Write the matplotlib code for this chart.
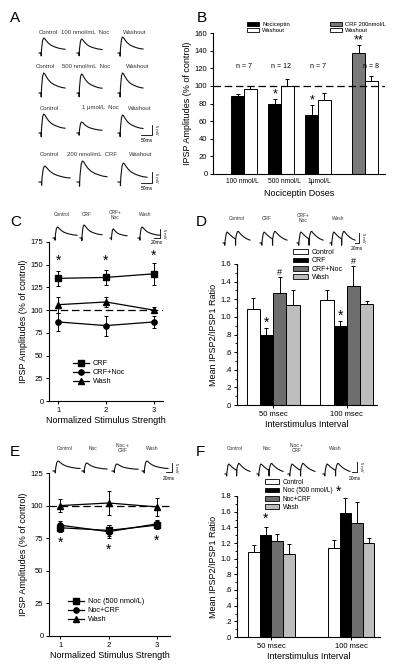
import numpy as np
import matplotlib
matplotlib.use("Agg")
import matplotlib.pyplot as plt
from matplotlib.patches import Patch
from matplotlib.lines import Line2D
from matplotlib.ticker import MultipleLocator, AutoMinorLocator

plt.rcParams['font.family'] = ['Liberation Sans', 'DejaVu Sans']
plt.rcParams['font.size'] = 6
plt.rcParams['axes.linewidth'] = 0.8

# ---- data ----
# panel B
b_doses = ["100 nmol/L", "500 nmol/L", "1\u03bcmol/L"]
b_noc = [89, 80, 67]
b_noc_err = [2, 5, 11]
b_wash = [97, 100, 84]
b_wash_err = [3, 8, 8]
b_crf = 137
b_crf_err = 9
b_crf_wash = 105
b_crf_wash_err = 6
b_n = ["n = 7", "n = 12", "n = 7", "n = 8"]

# panel C
c_x = [1, 2, 3]
c_crf = [135, 136, 140]
c_crf_err = [8, 8, 12]
c_crfnoc = [87, 83, 87]
c_crfnoc_err = [10, 11, 7]
c_wash = [106, 109, 100]
c_wash_err = [9, 6, 3]

# panel D
d_intervals = ["50 msec", "100 msec"]
d_labels = ["Control", "CRF", "CRF+Noc", "Wash"]
d_vals = [[1.09, 1.19], [0.79, 0.90], [1.27, 1.35], [1.14, 1.15]]
d_errs = [[0.12, 0.12], [0.08, 0.05], [0.18, 0.23], [0.16, 0.03]]

# panel E
e_x = [1, 2, 3]
e_noc = [83, 81, 85]
e_noc_err = [3, 4, 3]
e_noccrf = [85, 80, 86]
e_noccrf_err = [3, 5, 3]
e_wash = [100, 102, 99]
e_wash_err = [5, 9, 7]

# panel F
f_labels = ["Control", "Noc (500 nmol/L)", "Noc+CRF", "Wash"]
f_vals = [[1.08, 1.14], [1.30, 1.58], [1.23, 1.46], [1.06, 1.20]]
f_errs = [[0.09, 0.10], [0.11, 0.19], [0.08, 0.26], [0.13, 0.07]]

# example trace shapes (normalised)
ipsp_t = [0, 0.08, 0.085, 0.09, 0.10, 0.14, 0.18, 0.22, 0.28, 0.36, 0.46, 0.58, 0.72, 0.86, 1.0]
ipsp_v = [0, 0, -0.2, 0, 0.3, 0.85, 1.0, 0.96, 0.82, 0.66, 0.52, 0.42, 0.34, 0.28, 0.25]
pp_t = [0, 0.06, 0.065, 0.07, 0.09, 0.12, 0.15, 0.20, 0.28, 0.38, 0.46, 0.465, 0.47,
        0.50, 0.54, 0.57, 0.62, 0.70, 0.80, 0.90, 1.0]
pp_v = [0, 0, -0.2, 0, 0.4, 0.85, 1.0, 0.9, 0.7, 0.5, 0.38, -0.2, 0.38,
        0.8, 1.05, 1.05, 0.9, 0.7, 0.5, 0.36, 0.26]
# trace amplitudes (px)
a_amps = [[15, 14, 16], [20, 19, 20], [19, 11, 18], [16, 21, 19]]
c_amps = [11, 13, 9, 11]
d_amps = [11, 11, 11, 11]
e_amps = [10, 8, 7, 10]
f_amps = [10, 10, 10, 10]

W, H = 400, 669
fig = plt.figure(figsize=(W / 100, H / 100), dpi=100)


def box(l, t, r, b):
    return [l / W, 1 - b / H, (r - l) / W, (b - t) / H]


def style(ax):
    for s in ['top', 'right']:
        ax.spines[s].set_visible(False)
    ax.tick_params(labelsize=5.5, length=2.5, width=0.7, pad=1.5)


ekw = dict(ecolor='black', elinewidth=0.7, capsize=1.5, capthick=0.7)
patch_kw = dict(handleheight=0.7, borderpad=0, borderaxespad=0, frameon=False)

# ---- B ----
axB = fig.add_axes(box(213, 33, 385, 174))
style(axB)
pos = [0, 1, 2]
wd = 0.34
axB.bar([p - wd / 2 for p in pos], b_noc, wd, color='black', edgecolor='black', lw=0.7,
        yerr=[[0] * 3, b_noc_err], error_kw=ekw)
axB.bar([p + wd / 2 for p in pos], b_wash, wd, color='white', edgecolor='black', lw=0.7,
        yerr=[[0] * 3, b_wash_err], error_kw=ekw)
axB.bar(3.27 - wd / 2, b_crf, wd, color='#7a7a7a', edgecolor='black', lw=0.7,
        yerr=[[0], [b_crf_err]], error_kw=ekw)
axB.bar(3.27 + wd / 2, b_crf_wash, wd, color='white', edgecolor='black', lw=0.7,
        yerr=[[0], [b_crf_wash_err]], error_kw=ekw)
axB.axhline(100, color='black', ls=(0, (6, 3)), lw=0.9, zorder=5)
axB.set_xlim(-0.84, 3.81)
axB.set_ylim(0, 160)
axB.yaxis.set_major_locator(MultipleLocator(20))
axB.set_xticks([-0.05, 1.1, 2.05])
axB.set_xticklabels(b_doses)
axB.tick_params(axis='x', length=0, labelsize=4.8, pad=3)
axB.set_xlabel("Nociceptin Doses", fontsize=6.5, labelpad=3)
axB.set_ylabel("IPSP Amplitudes (% of control)", fontsize=6.5, labelpad=2)
for x, t in zip([0, 1, 2, 3.27 + wd / 2], b_n):
    axB.text(x, 118, t, ha='center', va='bottom', fontsize=5)
axB.text(1 - wd / 2, 84, "*", ha='center', va='bottom', fontsize=9)
axB.text(2 - wd / 2, 77, "*", ha='center', va='bottom', fontsize=9)
axB.text(3.27 - wd / 2, 145, "**", ha='center', va='bottom', fontsize=9)
fig.legend(handles=[Patch(fc='black', ec='black', lw=0.6), Patch(fc='white', ec='black', lw=0.6)],
           labels=["Nociceptin", "Washout"], loc='upper left',
           bbox_to_anchor=(247 / W, 1 - 22 / H), fontsize=4.2,
           handlelength=2.0, labelspacing=0.2, handletextpad=0.6, **patch_kw)
fig.legend(handles=[Patch(fc='#7a7a7a', ec='black', lw=0.6), Patch(fc='white', ec='black', lw=0.6)],
           labels=["CRF 200nmol/L", "Washout"], loc='upper left',
           bbox_to_anchor=(330 / W, 1 - 22 / H), fontsize=4.2,
           handlelength=2.0, labelspacing=0.2, handletextpad=0.6, **patch_kw)


# ---- C and E (line panels) ----
def line_panel(rect, ylim, ystep, xlim, series, names, lg_anchor):
    ax = fig.add_axes(rect)
    style(ax)
    mk = ['s', 'o', '^']
    handles = []
    for (y, e), m, n in zip(series, mk, names):
        ax.errorbar(c_x, y, yerr=e, color='black', marker=m, ms=3.8, lw=0.9, **ekw)
        handles.append(Line2D([0], [0], color='black', marker=m, ms=3.8, lw=0.9))
    ax.axhline(100, color='black', ls=(0, (6, 3)), lw=0.9, zorder=0)
    ax.set_xlim(*xlim)
    ax.set_ylim(*ylim)
    ax.yaxis.set_major_locator(MultipleLocator(ystep))
    ax.set_xticks([1, 2, 3])
    ax.set_xlabel("Normalized Stimulus Strength", fontsize=6.5, labelpad=1.5)
    ax.set_ylabel("IPSP Amplitudes (% of control)", fontsize=6.5, labelpad=2)
    fig.legend(handles=handles, labels=names, loc='upper left', bbox_to_anchor=lg_anchor,
               frameon=False, fontsize=5.3, handlelength=2.2, labelspacing=0.25,
               borderpad=0, borderaxespad=0, handletextpad=0.5)
    return ax


axC = line_panel(box(49, 242, 163, 401), (0, 175), 25, (0.81, 3.19),
                 [(c_crf, c_crf_err), (c_crfnoc, c_crfnoc_err), (c_wash, c_wash_err)],
                 ["CRF", "CRF+Noc", "Wash"], (73 / W, 1 - 360 / H))
for x, y in zip(c_x, [147, 147, 152]):
    axC.text(x, y, "*", ha='center', va='bottom', fontsize=10)

axE = line_panel(box(49, 473, 170, 636), (0, 125), 25, (0.77, 3.27),
                 [(e_noc, e_noc_err), (e_noccrf, e_noccrf_err), (e_wash, e_wash_err)],
                 ["Noc (500 nmol/L)", "Noc+CRF", "Wash"], (68 / W, 1 - 598 / H))
for x, y in zip(e_x, [66, 61, 68]):
    axE.text(x, y, "*", ha='center', va='bottom', fontsize=10)


# ---- D and F (ratio bars) ----
fills = ['white', 'black', '#6e6e6e', '#bdbdbd']


def ratio_panel(rect, ylim, xlim, wd, vals, errs, names, lg_anchor, lg_size):
    ax = fig.add_axes(rect)
    style(ax)
    for i, (v, e, c) in enumerate(zip(vals, errs, fills)):
        xs = [g + (i - 1.5) * wd for g in [0, 1]]
        ax.bar(xs, v, wd, color=c, edgecolor='black', lw=0.7,
               yerr=[[0, 0], e], error_kw=ekw)
    ax.set_xlim(*xlim)
    ax.set_ylim(*ylim)
    ticks = np.arange(0, ylim[1] + 0.01, 0.2)
    ax.set_yticks(ticks)
    ax.set_yticklabels([("%.1f" % t).lstrip('0') if t < 1 else "%.1f" % t for t in ticks])
    ax.yaxis.set_minor_locator(AutoMinorLocator(2))
    ax.tick_params(axis='y', which='minor', length=1.5, width=0.6)
    ax.set_xticks([0, 1])
    ax.set_xticklabels(d_intervals)
    ax.set_xlabel("Interstimulus Interval", fontsize=6.5, labelpad=1.5)
    ax.set_ylabel("Mean IPSP2/IPSP1 Ratio", fontsize=6.5, labelpad=2)
    fig.legend(handles=[Patch(fc=c, ec='black', lw=0.6) for c in fills], labels=names,
               loc='upper left', bbox_to_anchor=lg_anchor, fontsize=lg_size,
               handlelength=2.2, labelspacing=0.2, handletextpad=0.5, **patch_kw)
    return ax


wD = 0.18
axD = ratio_panel(box(237, 264, 377, 405), (0, 1.6), (-0.49, 1.41), wD,
                  d_vals, d_errs, d_labels, (293 / W, 1 - 249 / H), 5)
for g, y in zip([0, 1], [0.85, 0.93]):
    axD.text(g - 0.5 * wD, y, "*", ha='center', va='bottom', fontsize=10)
for g, y in zip([0, 1], [1.45, 1.58]):
    axD.text(g + 0.5 * wD, y, "#", ha='center', va='bottom', fontsize=6.5)

wF = 0.145
axF = ratio_panel(box(237, 496, 380, 637), (0, 1.8), (-0.43, 1.36), wF,
                  f_vals, f_errs, f_labels, (265 / W, 1 - 479 / H), 4.7)
axF.text(-0.5 * wF, 1.42, "*", ha='center', va='bottom', fontsize=10)

# ---- overlay: panel letters, example traces ----
ov = fig.add_axes([0, 0, 1, 1])
ov.set_xlim(0, W)
ov.set_ylim(H, 0)
ov.axis('off')
ov.patch.set_alpha(0)


def trace(x0, x1, base, amp, t, v):
    ov.plot([x0 + (x1 - x0) * a for a in t], [base - amp * b for b in v],
            color='#111111', lw=0.8)


def scalebar(x, ytop, ybot, xl, lab, y_lab):
    ov.plot([xl, x, x], [ybot, ybot, ytop], color='black', lw=0.6)
    ov.text(x + 2, (ytop + ybot) / 2, "5 mV", rotation=270, fontsize=3, va='center', ha='left')
    ov.text((xl + x) / 2, y_lab, lab, fontsize=3.5, ha='center', va='center')


for x, y, s in [(10, 18, "A"), (197, 18, "B"), (10, 222, "C"), (196, 222, "D"),
                (10, 452, "E"), (196, 452, "F")]:
    ov.text(x, y, s, fontsize=11, ha='left', va='center')

gray = '#333333'
a_rows = [(32, 53, ["Control", "100 nmol/mL  Noc", "Washout"], [48, 85, 135]),
          (67, 93, ["Control", "500 nmol/mL  Noc", "Washout"], [45, 86, 138]),
          (108, 133, ["Control", "1 \u03bcmol/L  Noc", "Washout"], [49, 100, 140]),
          (154, 182, ["Control", "200 nmol/mL  CRF", "Washout"], [49, 92, 141])]
a_cols = [[(39, 65), (77, 102), (118, 143)]] * 3 + [[(39, 70), (77, 107), (118, 147)]]
for (ly, base, labs, lx), cols, amps in zip(a_rows, a_cols, a_amps):
    for txt, x in zip(labs, lx):
        ov.text(x, ly, txt, fontsize=4.3, ha='center', va='center', color=gray)
    for (x0, x1), a in zip(cols, amps):
        trace(x0, x1, base, a, ipsp_t, ipsp_v)
scalebar(152, 125, 135, 141, "50ms", 140)
scalebar(152, 172, 183, 141, "50ms", 188)

# C traces
for txt, x in zip(["Control", "CRF", "CRF+\nNoc", "Wash"], [62, 87, 115, 145]):
    ov.text(x, 215, txt, fontsize=3.5, ha='center', va='center', color=gray, linespacing=0.9)
for (x0, x1), a in zip([(53, 77), (80, 102), (110, 127), (138, 160)], c_amps):
    trace(x0, x1, 238, a, ipsp_t, ipsp_v)
scalebar(160, 229, 238, 154, "20ms", 242)

# D traces
for txt, x in zip(["Control", "CRF", "CRF+\nNoc", "Wash"], [237, 267, 303, 338]):
    ov.text(x, 218, txt, fontsize=3.5, ha='center', va='center', color=gray, linespacing=0.9)
for (x0, x1), a in zip([(223, 250), (260, 287), (297, 323), (330, 355)], d_amps):
    trace(x0, x1, 243, a, pp_t, pp_v)
scalebar(359, 233, 243, 355, "20ms", 249)

# E traces
for txt, x in zip(["Control", "Noc", "Noc +\nCRF", "Wash"], [65, 93, 123, 152]):
    ov.text(x, 448, txt, fontsize=3.5, ha='center', va='center', color=gray, linespacing=0.9)
for (x0, x1), a in zip([(53, 80), (82, 107), (112, 138), (142, 168)], e_amps):
    trace(x0, x1, 471, a, ipsp_t, ipsp_v)
scalebar(172, 463, 472, 166, "20ms", 479)

# F traces
for txt, x in zip(["Control", "Noc", "Noc +\nCRF", "Wash"], [235, 267, 297, 335]):
    ov.text(x, 448, txt, fontsize=3.5, ha='center', va='center', color=gray, linespacing=0.9)
for (x0, x1), a in zip([(225, 250), (257, 283), (288, 315), (323, 350)], f_amps):
    trace(x0, x1, 474, a, pp_t, pp_v)
scalebar(357, 462, 472, 352, "20ms", 479)
ov.text(339, 492, "*", fontsize=10, ha='center', va='center')

fig.savefig("out.png", dpi=100)
